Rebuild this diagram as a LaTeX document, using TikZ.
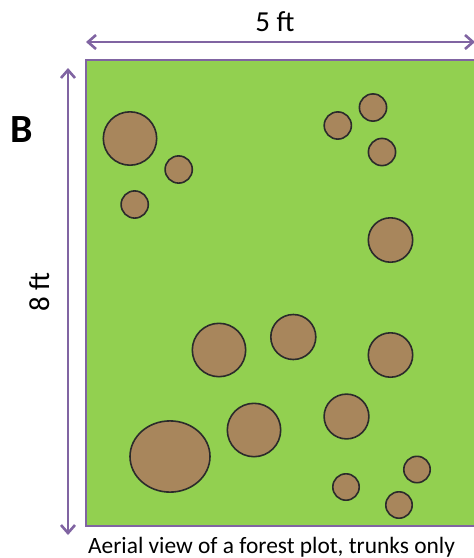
\documentclass[tikz,border=0pt]{standalone}
\usepackage{fontspec}
\setmainfont{Carlito}
\usetikzlibrary{arrows.meta}
\definecolor{plotgreen}{HTML}{92D050}
\definecolor{trunk}{HTML}{A8865C}
\definecolor{edge}{HTML}{2B2B2B}
\definecolor{dim}{HTML}{8064A2}
\begin{document}
\begin{tikzpicture}[x=1pt,y=-1pt,
  tree/.style={fill=trunk,draw=edge,line width=1.6pt},
  dimarrow/.style={draw=dim,line width=2.6pt,{Straight Barb[length=8pt,width=14pt]}-{Straight Barb[length=8pt,width=14pt]}},
  lbl/.style={inner sep=0pt,anchor=base,font=\fontsize{29}{30}\selectfont}]
\useasboundingbox (0,0) rectangle (474,558);
\begin{scope}
\clip (0,0) rectangle (474,558);
\draw[fill=plotgreen,draw=dim,line width=2.6pt] (86,60) rectangle (490,526);
% trees
\draw[tree] (130,138.5) circle (26.7);
\draw[tree] (178.7,169.5) circle (13.6);
\draw[tree] (134.7,204.5) circle (13.6);
\draw[tree] (337.8,125.5) circle (13.6);
\draw[tree] (373,107.5) circle (13.6);
\draw[tree] (382,152) circle (13.6);
\draw[tree] (390.5,240) circle (22.2);
\draw[tree] (219,350) circle (26.7);
\draw[tree] (293.3,337) circle (22.5);
\draw[tree] (390.5,355) circle (22.2);
\draw[tree] (170,456.5) ellipse (40 and 35.6);
\draw[tree] (254,430) circle (26.7);
\draw[tree] (346.5,416.5) circle (22.4);
\draw[tree] (417,469.5) circle (13.2);
\draw[tree] (346,487) circle (13.2);
\draw[tree] (399,505) circle (13.2);
% dimension arrows
\coordinate (tl) at (86,42);
\coordinate (tr) at (475,42);
\coordinate (lt) at (68,68);
\coordinate (lb) at (68,535);
\draw[dimarrow] (tl) -- (tr);
\draw[dimarrow] (lt) -- (lb);
\end{scope}
\node[lbl] (w) at (275,31) {5 ft};
\node[lbl,rotate=90] (h) at (49,292) {8 ft};
\node[inner sep=0pt,anchor=base,font=\fontsize{40}{42}\selectfont\bfseries] (B) at (22,142) {B};
\node[inner sep=0pt,anchor=base,font=\fontsize{23.4}{24}\selectfont] (cap) at (271.5,553) {Aerial view of a forest plot, trunks only};
\end{tikzpicture}
\end{document}
